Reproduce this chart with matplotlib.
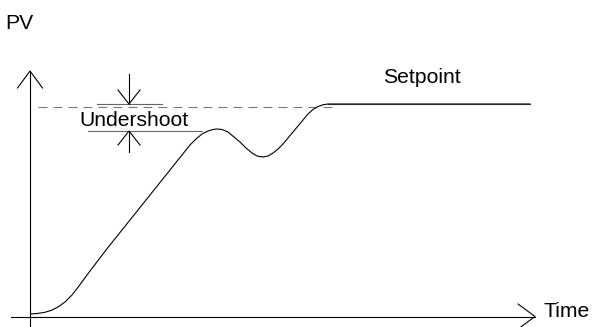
import matplotlib
matplotlib.use("Agg")
import matplotlib.pyplot as plt
import numpy as np

# diagram is drawn in pixel units (y grows downward)
# process value response
time = [31, 37, 44, 51, 58, 65, 72, 79, 87, 106, 178, 184, 190, 196, 202, 208,
        213, 217, 222, 228, 234, 240, 246, 252, 257, 263, 268, 273, 278, 283,
        288, 293, 298, 303, 308, 313, 318, 323, 328, 530]
pv = [314, 313.5, 312.5, 310.5, 307, 302, 295, 286, 275, 250, 160, 152.5, 145,
      139, 134, 131, 129.5, 129, 129.5, 132, 137, 142, 148, 153, 156, 157, 156,
      153, 149, 144, 138, 132, 126, 120, 114, 109.5, 106.5, 104.8, 104, 104]

setpoint_y = 107
setpoint_x = [38, 338]
undershoot_top = 104
undershoot_bottom = 131
labels = ["PV", "Time", "Setpoint", "Undershoot"]

plt.rcParams['font.family'] = ['Liberation Sans', 'DejaVu Sans']
fs = 15.2
lw = 0.8

fig = plt.figure(figsize=(5.93, 3.27), dpi=100)
ax = fig.add_axes([0, 0, 1, 1])
ax.set_xlim(0, 593)
ax.set_ylim(327, 0)
ax.axis('off')


def arrow_head(tip, direction, length, half_width, color='black'):
    d = np.array(direction, dtype=float)
    d = d / np.linalg.norm(d)
    n = np.array([-d[1], d[0]])
    t = np.array(tip, dtype=float)
    base = t - d * length
    a = base + n * half_width
    b = base - n * half_width
    ax.plot([a[0], t[0], b[0]], [a[1], t[1], b[1]], color=color, lw=lw,
            solid_joinstyle='miter')


# axes
ax.plot([30, 30], [326, 72], color='black', lw=lw)
arrow_head((30, 71), (0, -1), 17, 12.5)
ax.plot([11, 535], [316.5, 316.5], color='black', lw=lw)
arrow_head((535, 316.5), (1, 0), 17, 12.5)

# setpoint
ax.plot(setpoint_x, [setpoint_y, setpoint_y], color='#777777', lw=lw,
        dashes=(8, 5.5))
ax.plot([328, 530], [104, 104], color='#555555', lw=lw)

# response curve
ax.plot(time, pv, color='black', lw=lw, solid_joinstyle='round')

# undershoot marker
ax.plot([97, 162], [undershoot_top, undershoot_top], color='#666666', lw=lw)
ax.plot([88, 202], [undershoot_bottom, undershoot_bottom], color='#666666', lw=lw)
ax.plot([129, 129], [74, undershoot_top], color='black', lw=lw)
arrow_head((129, undershoot_top), (0, 1), 14, 11)
ax.plot([129, 129], [undershoot_bottom, 152], color='black', lw=lw)
arrow_head((129, undershoot_bottom), (0, -1), 14, 11)

# labels
ax.text(5, 29, labels[0], fontsize=fs, va='baseline', ha='left')
ax.text(543, 317, labels[1], fontsize=fs, va='baseline', ha='left')
ax.text(383, 83, labels[2], fontsize=fs, va='baseline', ha='left')
ax.text(79, 126, labels[3], fontsize=fs, va='baseline', ha='left')

fig.savefig('out.png', dpi=100)
